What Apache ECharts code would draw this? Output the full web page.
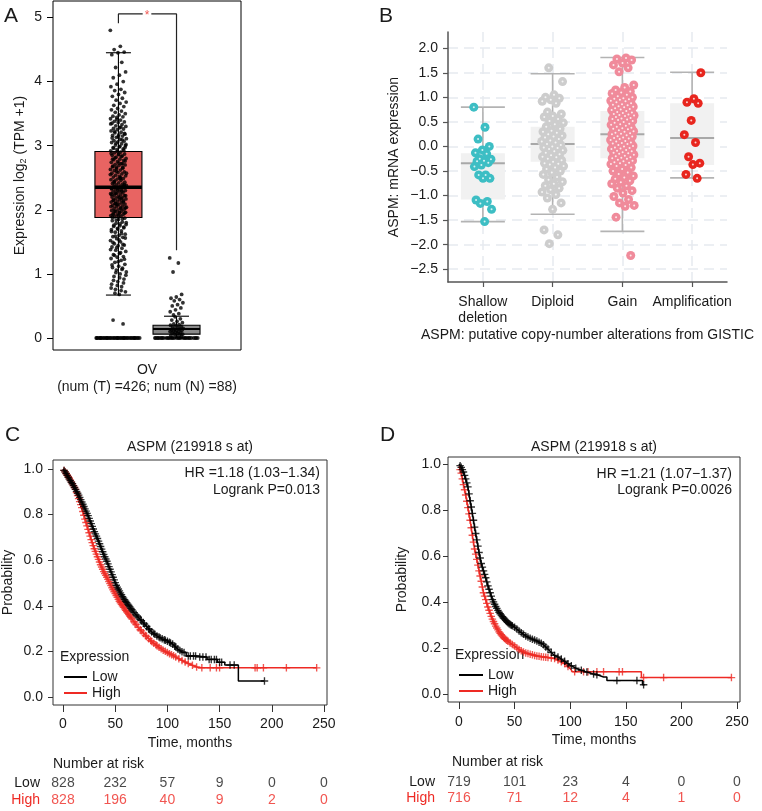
<!DOCTYPE html>
<html><head><meta charset="utf-8">
<script src="https://cdn.jsdelivr.net/npm/echarts@6/dist/echarts.min.js"></script>
<style>html,body{margin:0;padding:0;background:#fff}#c{width:762px;height:811px}</style>
</head><body><div id="c"></div>
<script>
// ---------------- Panel A data ----------------
const aCategories = ['OV\n(num (T) =426; num (N) =88)'];
const aTumorBox = [0.67, 1.88, 2.35, 2.91, 4.45];   // low whisker, q1, median, q3, high whisker
const aNormalBox = [0, 0.06, 0.14, 0.20, 0.34];
const aTumorZeros = [0,0,0,0,0,0,0,0,0,0,0,0,0,0,0,0,0,0,0,0,0,0,0,0,0,0,0,0,0,0,0,0,0,0,0,0,0,0,0,0];
const aTumorValues = [
4.80,4.55,4.50,4.46,4.45,4.42,4.30,4.22,4.15,4.10,4.06,4.00,3.96,3.92,3.88,3.86,3.83,3.80,3.77,3.74,3.71,3.68,3.66,3.63,3.61,3.58,3.56,3.54,3.52,3.50,
3.48,3.46,3.45,3.44,3.42,3.40,3.38,3.37,3.36,3.35,3.33,3.31,3.30,3.28,3.27,3.26,3.25,3.23,3.21,3.20,3.18,3.17,3.16,3.15,3.13,3.11,3.10,3.08,3.07,3.06,3.05,3.03,3.01,3.00,
2.98,2.97,2.95,2.94,2.92,2.90,2.89,2.87,2.86,2.85,2.84,2.82,2.80,2.79,2.78,2.77,2.75,2.74,2.72,2.71,2.70,2.69,2.67,2.66,2.64,2.63,2.62,2.61,2.59,2.58,2.57,2.56,2.54,2.53,2.52,2.51,2.49,2.48,2.47,2.46,2.45,2.43,2.42,2.41,2.40,2.39,2.38,2.37,2.36,2.35,2.34,2.33,2.32,2.31,2.30,2.29,2.28,2.27,2.26,2.25,2.24,2.23,2.22,2.21,2.20,2.19,2.18,2.17,2.16,2.15,2.14,2.13,2.12,2.11,2.10,2.09,2.08,2.07,2.06,2.05,2.04,2.03,2.02,2.01,2.00,1.99,1.98,1.97,1.96,1.95,1.94,1.93,1.92,1.91,1.90,1.89,
1.87,1.85,1.83,1.81,1.79,1.77,1.75,1.74,1.73,1.71,1.69,1.67,1.65,1.62,1.60,1.58,1.57,1.55,1.52,1.50,1.47,1.45,1.44,1.42,1.40,1.37,1.35,1.32,1.30,1.27,1.26,1.24,1.21,1.18,1.15,1.12,1.10,1.09,1.06,1.03,1.00,0.96,0.92,0.88,0.84,0.80,0.76,0.72,0.68,0.28,0.22,
3.41,3.34,3.29,3.22,3.19,3.14,3.12,3.09,3.04,3.02,2.99,2.96,2.93,2.91,2.88,2.83,2.81,2.76,2.73,2.68,2.65,2.60,2.55,2.50,2.44,2.39,2.35,2.33,2.29,2.26,2.22,2.19,2.15,2.12,2.08,2.05,2.02,1.98,1.95,1.91,1.88,1.86,1.84,1.80,1.78,1.76,1.72,1.70,1.66,1.63,1.59,1.56,1.53,1.49,1.46,1.41,1.38,1.33,1.29,1.23,1.19,1.14,1.07,1.02,0.98,0.94,0.90,0.86,0.82,0.78,0.74,0.70,
2.97,2.87,2.79,2.72,2.66,2.57,2.49,2.42,2.37,2.31,2.24,2.17,2.10,2.03,1.96,1.93];
const aNormalZeros = [0,0,0,0,0,0,0,0,0,0,0,0,0,0,0,0,0,0,0,0,0,0,0,0,0,0,0,0,0,0];
const aNormalValues = [0.02,0.03,0.04,0.05,0.06,0.06,0.07,0.08,0.08,0.09,0.10,0.10,0.11,0.12,0.12,0.13,0.14,0.14,0.15,0.16,0.17,0.18,0.19,0.20,0.21,0.22,0.24,0.26,0.28,0.30,0.33,
1.25,1.17,1.03,0.68,0.64,0.62,0.60,0.58,0.55,0.52,0.50,0.47,0.44,0.41,0.38,0.36];
const aYTicks = [0,1,2,3,4,5];
const aSig = {top: 5.055, leftEnd: 4.91, rightEnd: 1.37, mark: '*'};

// ---------------- Panel B data ----------------
const bCategories = ['Shallow\ndeletion', 'Diploid', 'Gain', 'Amplification'];
const bBoxes = [
  [-1.53, -1.08, -0.34, -0.14, 0.80],
  [-1.38, -0.31, 0.05, 0.40, 1.48],
  [-1.73, -0.24, 0.25, 0.72, 1.81],
  [-0.64, -0.38, 0.17, 0.88, 1.51]
];
const bShallow = [0.80,0.39,0.15,0.00,-0.07,-0.13,-0.15,-0.25,-0.26,-0.29,-0.30,-0.33,-0.38,-0.41,-0.58,-0.58,-0.65,-0.65,-1.09,-1.12,-1.16,-1.28,-1.53];
const bDiploid = [1.60,1.32,1.05,1.00,0.98,0.95,0.92,0.88,0.70,0.66,0.62,0.60,0.56,0.52,0.48,0.45,0.40,0.36,0.32,0.30,0.28,0.25,0.22,0.20,0.18,0.15,0.12,0.10,0.08,0.05,0.03,0.00,-0.02,-0.03,-0.05,-0.08,-0.10,-0.13,-0.16,-0.18,-0.21,-0.22,-0.25,-0.28,-0.31,-0.34,-0.35,-0.37,-0.40,-0.43,-0.46,-0.50,-0.53,-0.57,-0.62,-0.68,-0.72,-0.76,-0.80,-0.85,-0.88,-0.93,-0.98,-1.05,-1.15,-1.28,-1.70,-1.80,-1.98];
const bGain = [1.80,1.78,1.76,1.70,1.66,1.60,1.52,1.25,1.20,1.15,1.12,1.10,1.08,1.05,1.02,1.00,0.98,0.97,0.96,0.95,0.93,0.92,0.90,0.88,0.86,0.85,0.84,0.82,0.81,0.80,0.78,0.76,0.75,0.74,0.72,0.70,0.69,0.68,0.66,0.65,0.64,0.63,0.62,0.60,0.58,0.57,0.56,0.55,0.54,0.52,0.50,0.48,0.46,0.45,0.44,0.42,0.40,0.38,0.37,0.36,0.35,0.33,0.31,0.30,0.28,0.27,0.26,0.25,0.23,0.21,0.20,0.18,0.17,0.16,0.15,0.13,0.11,0.10,0.08,0.07,0.06,0.05,0.03,0.01,0.00,-0.02,-0.03,-0.04,-0.05,-0.07,-0.09,-0.10,-0.12,-0.13,-0.14,-0.15,-0.17,-0.19,-0.20,-0.22,-0.23,-0.24,-0.25,-0.27,-0.29,-0.30,-0.32,-0.33,-0.34,-0.36,-0.38,-0.40,-0.43,-0.46,-0.50,-0.53,-0.56,-0.60,-0.63,-0.66,-0.70,-0.73,-0.76,-0.80,-0.85,-0.90,-0.95,-1.02,-1.08,-1.15,-1.20,-1.22,-1.44,-2.22];
const bAmp = [1.50,0.97,0.90,0.88,0.53,0.24,0.08,-0.21,-0.34,-0.37,-0.57,-0.65];
const bYTicks = [-2.5,-2,-1.5,-1,-0.5,0,0.5,1,1.5,2];

// ---------------- Panel C data ----------------
const timeTicks = [0,50,100,150,200,250];
const probTicks = [0,0.2,0.4,0.6,0.8,1.0];
const cLowCurve = [[0,1],[3,0.98],[6,0.955],[9,0.935],[12,0.91],[15,0.885],[18,0.855],[21,0.825],[24,0.795],[27,0.76],[30,0.725],[33,0.695],[36,0.66],[39,0.625],[42,0.595],[45,0.56],[48,0.525],[51,0.49],[54,0.465],[57,0.44],[60,0.42],[64,0.395],[68,0.37],[72,0.35],[76,0.33],[80,0.31],[85,0.285],[90,0.268],[95,0.255],[100,0.245],[105,0.232],[110,0.21],[115,0.195],[118,0.195],[118,0.18],[128,0.18],[128,0.175],[138,0.175],[138,0.165],[148,0.165],[148,0.152],[155,0.152],[155,0.14],[168,0.14],[168,0.07],[193,0.07]];
const cHighCurve = [[0,1],[3,0.98],[6,0.96],[9,0.935],[12,0.91],[15,0.87],[18,0.83],[21,0.78],[24,0.735],[27,0.69],[30,0.65],[33,0.615],[36,0.58],[39,0.55],[42,0.525],[45,0.497],[48,0.47],[51,0.445],[54,0.42],[57,0.40],[60,0.38],[64,0.355],[68,0.33],[72,0.305],[76,0.285],[80,0.265],[85,0.243],[90,0.225],[95,0.208],[100,0.195],[105,0.183],[110,0.17],[115,0.158],[120,0.147],[125,0.137],[130,0.128],[243,0.128]];
const cLowCensor = [1,2,3,4,5,6,7,8,9,10,11,12,13,14,15,16,17,18,19,20,21,22,23,24,25,26,27,28,29,30,31,32,33,34,35,36,37,38,39,40,41,42,43,44,45,46,47,48,49,50,51,52,53,54,55,56,57,58,59,60,61,62,63,64,65,66,67,68,70,71,72,74,75,77,78,80,82,83,85,87,88,90,92,93,95,97,98,100,102,103,105,107,108,110,112,114,116,120,122,125,127,131,134,137,140,142,145,147,150,152,160,164,193];
const cHighCensor = [1,2,3,4,5,6,7,8,9,10,11,12,13,14,15,16,17,18,19,20,21,22,23,24,25,26,27,28,29,30,31,32,33,34,35,36,37,38,39,40,41,42,43,44,45,46,47,48,49,50,51,52,53,54,55,56,57,58,59,60,61,62,63,64,65,66,68,69,70,72,74,75,77,79,80,82,84,85,87,89,90,92,94,96,98,100,102,104,106,108,111,114,117,120,124,128,133,141,147,150,184,186,192,214,243];
const cRiskLow = [828,232,57,9,0,0];
const cRiskHigh = [828,196,40,9,2,0];
const cStats = ['HR =1.18 (1.03\u22121.34)', 'Logrank P=0.013'];

// ---------------- Panel D data ----------------
const dLowCurve = [[0,1],[2,0.985],[4,0.965],[6,0.935],[8,0.9],[10,0.84],[12,0.785],[14,0.725],[16,0.67],[18,0.615],[20,0.567],[22,0.535],[24,0.505],[26,0.47],[28,0.44],[30,0.41],[33,0.38],[36,0.355],[40,0.33],[45,0.305],[50,0.29],[55,0.27],[60,0.252],[65,0.24],[70,0.23],[75,0.218],[80,0.195],[85,0.17],[90,0.158],[95,0.142],[100,0.125],[105,0.112],[110,0.103],[115,0.095],[120,0.088],[125,0.082],[130,0.074],[133,0.074],[133,0.058],[165,0.058],[165,0.04],[167,0.04]];
const dHighCurve = [[0,0.99],[2,0.96],[4,0.91],[6,0.865],[8,0.81],[10,0.755],[12,0.69],[14,0.63],[16,0.585],[18,0.535],[20,0.49],[22,0.44],[24,0.41],[26,0.378],[28,0.35],[30,0.325],[33,0.295],[36,0.27],[40,0.245],[45,0.225],[50,0.208],[55,0.19],[60,0.178],[70,0.165],[80,0.158],[86,0.154],[90,0.145],[95,0.132],[100,0.11],[102,0.097],[164,0.097],[164,0.071],[245,0.071]];
const dLowCensor = [1,2,3,4,5,6,7,8,9,10,11,12,13,14,15,16,17,18,19,20,21,22,23,24,25,26,27,28,29,30,31,32,33,34,35,36,37,38,39,40,41,42,43,44,45,46,47,48,50,52,54,56,58,60,62,64,66,68,70,72,74,76,78,80,83,86,89,92,95,98,101,105,110,115,121,124,142,160,166];
const dHighCensor = [1,2,3,4,5,6,7,8,9,10,11,12,13,14,15,16,17,18,19,20,21,22,23,24,25,26,27,28,29,30,31,32,33,34,35,36,37,38,39,40,41,42,43,44,46,48,50,52,54,56,58,60,62,64,66,68,70,72,74,76,78,80,83,86,89,92,95,98,104,112,116,124,130,144,147,166,184,245];
const dRiskLow = [719,101,23,4,0,0];
const dRiskHigh = [716,71,12,4,1,0];
const dStats = ['HR =1.21 (1.07\u22121.37)', 'Logrank P=0.0026'];

// ---------------- helpers ----------------
const FONT = '"Liberation Sans", Arial, Helvetica, sans-serif';
const RED = '#EE2A24';
const TXT = '#1a1a1a';
function jitter(i, w) { const f = (i * 0.618033988749895) % 1; return (f - 0.5) * 2 * w; }
function jitterPts(values, center, w, off) { return values.map((v, i) => [center + jitter(i + (off || 0), w), v]); }
// position of a censor mark on the drawn curve
function onCurve(curve, t) {
  for (let i = curve.length - 1; i >= 0; i--) {
    if (curve[i][0] <= t) {
      const a = curve[i], b = curve[i + 1];
      if (!b || b[0] === a[0]) return a[1];
      return a[1] + (b[1] - a[1]) * (t - a[0]) / (b[0] - a[0]);
    }
  }
  return curve[0][1];
}
const PLUS = 'path://M-0.18,-1L0.18,-1L0.18,-0.18L1,-0.18L1,0.18L0.18,0.18L0.18,1L-0.18,1L-0.18,0.18L-1,0.18L-1,-0.18L-0.18,-0.18Z';

const A_T = 0.348, A_N = 0.657; // x positions of tumor / normal groups on panel A's hidden axis

function aBoxBack(params, api) {
  const x = api.value(0);
  const q1 = api.coord([x, api.value(2)]), q3 = api.coord([x, api.value(4)]);
  const hw = 23.5;
  return { type: 'rect', shape: { x: q1[0] - hw, y: q3[1], width: hw * 2, height: q1[1] - q3[1] },
    style: { fill: params.dataIndex === 0 ? '#E86462' : '#8a8a8a', stroke: 'none' } };
}
function aBoxFront(params, api) {
  const x = api.value(0);
  const lo = api.coord([x, api.value(1)]), q1 = api.coord([x, api.value(2)]), md = api.coord([x, api.value(3)]),
        q3 = api.coord([x, api.value(4)]), hi = api.coord([x, api.value(5)]);
  const hw = 23.5, cw = 12.5, st = { stroke: '#000', lineWidth: 1.1 };
  return { type: 'group', children: [
    { type: 'rect', shape: { x: q1[0] - hw, y: q3[1], width: hw * 2, height: q1[1] - q3[1] }, style: { fill: 'none', stroke: '#000', lineWidth: 1.1 } },
    { type: 'line', shape: { x1: md[0] - hw, y1: md[1], x2: md[0] + hw, y2: md[1] }, style: { stroke: '#000', lineWidth: params.dataIndex === 0 ? 3.5 : 2 } },
    { type: 'line', shape: { x1: q3[0], y1: q3[1], x2: hi[0], y2: hi[1] }, style: st },
    { type: 'line', shape: { x1: q1[0], y1: q1[1], x2: lo[0], y2: lo[1] }, style: st },
    { type: 'line', shape: { x1: hi[0] - cw, y1: hi[1], x2: hi[0] + cw, y2: hi[1] }, style: st },
    { type: 'line', shape: { x1: lo[0] - cw, y1: lo[1], x2: lo[0] + cw, y2: lo[1] }, style: st }
  ]};
}
function bBox(params, api) {
  const x = api.value(0);
  const lo = api.coord([x, api.value(1)]), q1 = api.coord([x, api.value(2)]), md = api.coord([x, api.value(3)]),
        q3 = api.coord([x, api.value(4)]), hi = api.coord([x, api.value(5)]);
  const hw = 22, st = { stroke: '#b3b3b3', lineWidth: 1.6 };
  return { type: 'group', children: [
    { type: 'rect', shape: { x: q1[0] - hw, y: q3[1], width: hw * 2, height: q1[1] - q3[1] }, style: { fill: '#f1f1f1' } },
    { type: 'line', shape: { x1: q3[0], y1: q3[1], x2: hi[0], y2: hi[1] }, style: st },
    { type: 'line', shape: { x1: q1[0], y1: q1[1], x2: lo[0], y2: lo[1] }, style: st },
    { type: 'line', shape: { x1: hi[0] - hw, y1: hi[1], x2: hi[0] + hw, y2: hi[1] }, style: st },
    { type: 'line', shape: { x1: lo[0] - hw, y1: lo[1], x2: lo[0] + hw, y2: lo[1] }, style: st },
    { type: 'line', shape: { x1: md[0] - hw, y1: md[1], x2: md[0] + hw, y2: md[1] }, style: { stroke: '#a8a8a8', lineWidth: 2 } }
  ]};
}

const chart = echarts.init(document.getElementById('c'), null, { renderer: 'canvas' });

const axisTxt = { fontSize: 14, color: TXT, fontFamily: FONT };
function fmt1(v) { return (v < 0 ? '\u2212' : '') + Math.abs(v).toFixed(1); }

const bColors = ['#3DBEC4', '#CDCDCD', '#F08B9B', '#E8261E'];
const bGroups = [bShallow, bDiploid, bGain, bAmp];
const bWidths = [0.13, 0.16, 0.17, 0.13];

const series = [];
// ---- A ----
series.push({ type: 'custom', xAxisIndex: 1, yAxisIndex: 0, renderItem: aBoxBack, z: 1, silent: true,
  data: [[A_T].concat(aTumorBox), [A_N].concat(aNormalBox)] });
series.push({ type: 'scatter', xAxisIndex: 1, yAxisIndex: 0, symbolSize: 3.8, z: 2, silent: true,
  itemStyle: { color: '#000' },
  data: jitterPts(aTumorValues, A_T, 0.043).concat(jitterPts(aTumorZeros, A_T, 0.118), jitterPts(aNormalValues, A_N, 0.037, 3), jitterPts(aNormalZeros, A_N, 0.118, 5)) });
series.push({ type: 'custom', xAxisIndex: 1, yAxisIndex: 0, renderItem: aBoxFront, z: 3, silent: true,
  data: [[A_T].concat(aTumorBox), [A_N].concat(aNormalBox)] });
series.push({ type: 'line', xAxisIndex: 1, yAxisIndex: 0, symbol: 'none', silent: true, lineStyle: { color: '#222', width: 1.2 },
  data: [[A_T, aSig.leftEnd], [A_T, aSig.top], [0.477, aSig.top]] });
series.push({ type: 'line', xAxisIndex: 1, yAxisIndex: 0, symbol: 'none', silent: true, lineStyle: { color: '#222', width: 1.2 },
  data: [[0.523, aSig.top], [A_N, aSig.top], [A_N, aSig.rightEnd]] });
series.push({ type: 'scatter', xAxisIndex: 1, yAxisIndex: 0, symbolSize: 1, itemStyle: { color: 'transparent' }, silent: true,
  label: { show: true, position: 'inside', formatter: aSig.mark, color: RED, fontSize: 12, fontFamily: FONT, offset: [0, 2] },
  data: [[0.5, aSig.top]] });

// ---- B ----
series.push({ type: 'custom', xAxisIndex: 2, yAxisIndex: 1, renderItem: bBox, z: 1, silent: true,
  data: bBoxes.map((b, i) => [i].concat(b)) });
bGroups.forEach((g, gi) => {
  const d = jitterPts(g, gi, bWidths[gi], gi * 7);
  series.push({ type: 'scatter', xAxisIndex: 2, yAxisIndex: 1, symbolSize: 9, z: 2, silent: true,
    itemStyle: { color: bColors[gi], opacity: 1 }, data: d });
  series.push({ type: 'scatter', xAxisIndex: 2, yAxisIndex: 1, symbolSize: 2, z: 3, silent: true,
    itemStyle: { color: '#ffffff' }, data: d });
});

// ---- C & D KM ----
function km(xi, yi, lowCurve, highCurve, lowCens, highCens) {
  series.push({ name: 'Low', type: 'line', xAxisIndex: xi, yAxisIndex: yi, symbol: 'none', silent: true,
    itemStyle: { color: '#000' }, lineStyle: { color: '#000', width: 1.5 }, data: lowCurve, z: 3 });
  series.push({ name: 'High', type: 'line', xAxisIndex: xi, yAxisIndex: yi, symbol: 'none', silent: true,
    itemStyle: { color: RED }, lineStyle: { color: RED, width: 1.5 }, data: highCurve, z: 2 });
  series.push({ name: 'lowCens', type: 'scatter', xAxisIndex: xi, yAxisIndex: yi, symbol: PLUS, symbolSize: 7.5, silent: true, z: 3,
    itemStyle: { color: '#000' }, data: lowCens.map(t => [t, onCurve(lowCurve, t)]) });
  series.push({ name: 'highCens', type: 'scatter', xAxisIndex: xi, yAxisIndex: yi, symbol: PLUS, symbolSize: 7.5, silent: true, z: 2,
    itemStyle: { color: RED }, data: highCens.map(t => [t, onCurve(highCurve, t)]) });
}
km(3, 2, cLowCurve, cHighCurve, cLowCensor, cHighCensor);
km(5, 4, dLowCurve, dHighCurve, dLowCensor, dHighCensor);

function risk(xi, yi, low, high) {
  series.push({ type: 'scatter', xAxisIndex: xi, yAxisIndex: yi, symbolSize: 1, itemStyle: { color: 'transparent' }, silent: true,
    label: { show: true, position: 'inside', formatter: p => String(p.value[2]), fontSize: 14, color: TXT, fontFamily: FONT },
    data: timeTicks.map((t, i) => [t, 'Low', low[i]]) });
  series.push({ type: 'scatter', xAxisIndex: xi, yAxisIndex: yi, symbolSize: 1, itemStyle: { color: 'transparent' }, silent: true,
    label: { show: true, position: 'inside', formatter: p => String(p.value[2]), fontSize: 14, color: RED, fontFamily: FONT },
    data: timeTicks.map((t, i) => [t, 'High', high[i]]) });
}
risk(4, 3, cRiskLow, cRiskHigh);
risk(6, 5, dRiskLow, dRiskHigh);

function kmX(grid, min, max, margin) {
  return { gridIndex: grid, type: 'value', min: min, max: max,
    axisLine: { show: false, onZero: false }, splitLine: { show: false },
    axisTick: { show: true, customValues: timeTicks, length: 7, lineStyle: { color: '#333', width: 1 } },
    axisLabel: Object.assign({ customValues: timeTicks, margin: margin }, axisTxt),
    name: 'Time, months', nameLocation: 'middle', nameGap: 31, nameTextStyle: axisTxt };
}
function kmY(grid, min, max, margin, gap) {
  return { gridIndex: grid, type: 'value', min: min, max: max,
    axisLine: { show: false, onZero: false }, splitLine: { show: false },
    axisTick: { show: true, customValues: probTicks, length: 5, lineStyle: { color: '#333', width: 1 } },
    axisLabel: Object.assign({ customValues: probTicks, margin: margin, formatter: v => v.toFixed(1) }, axisTxt),
    name: 'Probability', nameLocation: 'middle', nameGap: gap, nameTextStyle: axisTxt };
}
function riskX(grid, min, max) { return { gridIndex: grid, type: 'value', min: min, max: max, show: false, axisLine: { onZero: false } }; }
function riskY(grid) {
  return { gridIndex: grid, type: 'category', data: ['High', 'Low'], axisLine: { show: false, onZero: false }, axisTick: { show: false },
    axisLabel: { interval: 0, margin: 13, fontSize: 14, fontFamily: FONT, color: v => v === 'High' ? RED : TXT } };
}

function txt(x, y, text, opts) {
  return { type: 'text', x: x, y: y, silent: true,
    style: Object.assign({ text: text, fontSize: 14, fontFamily: FONT, fill: TXT, align: 'left', verticalAlign: 'middle' }, (opts || {})) };
}

const option = {
  animation: false,
  backgroundColor: '#fff',
  textStyle: { fontFamily: FONT },
  grid: [
    { left: 53, top: 1, width: 188, height: 349, show: true, borderColor: '#000', borderWidth: 1, backgroundColor: 'transparent' },
    { left: 448, top: 32, width: 279, height: 250 },
    { left: 53, top: 460, width: 274, height: 245, show: true, borderColor: '#333', borderWidth: 1, backgroundColor: 'transparent' },
    { left: 53, top: 775, width: 274, height: 34 },
    { left: 448, top: 457, width: 292, height: 245, show: true, borderColor: '#333', borderWidth: 1, backgroundColor: 'transparent' },
    { left: 448, top: 774, width: 292, height: 32 }
  ],
  xAxis: [
    { gridIndex: 0, type: 'category', data: aCategories, axisLine: { show: false, onZero: false },
      axisTick: { alignWithLabel: true, length: 6, lineStyle: { color: '#000' } },
      axisLabel: Object.assign({ margin: 12, lineHeight: 17 }, axisTxt) },
    { gridIndex: 0, type: 'value', min: 0, max: 1, show: false, axisLine: { onZero: false } },
    { gridIndex: 1, type: 'value', min: -0.5, max: 3.5,
      axisLine: { show: true, onZero: false, lineStyle: { color: '#555', width: 1.5 } },
      axisTick: { show: true, customValues: [0, 1, 2, 3], length: 5, lineStyle: { color: '#555', width: 1.2 } },
      axisLabel: Object.assign({ customValues: [0, 1, 2, 3], margin: 12, lineHeight: 16, formatter: v => bCategories[Math.round(v)] }, axisTxt),
      splitLine: { show: true, lineStyle: { color: '#e6eaef', width: 1.5, type: [10, 6] } },
      name: 'ASPM: putative copy-number alterations from GISTIC', nameLocation: 'middle', nameGap: 46, nameTextStyle: axisTxt },
    kmX(2, -9.58, 252.9, 12),
    riskX(3, -9.58, 252.9),
    kmX(4, -9.9, 252.7, 13),
    riskX(5, -9.9, 252.7)
  ],
  yAxis: [
    { gridIndex: 0, type: 'value', min: -0.187, max: 5.257, axisLine: { show: false, onZero: false }, splitLine: { show: false },
      axisTick: { show: true, customValues: aYTicks, length: 6, lineStyle: { color: '#000' } },
      axisLabel: Object.assign({ customValues: aYTicks, margin: 11 }, axisTxt),
      name: 'Expression log{s|2} (TPM +1)', nameLocation: 'middle', nameGap: 25,
      nameTextStyle: Object.assign({ rich: { s: { fontSize: 9, fontFamily: FONT, color: TXT, padding: [6, 0, 0, 0] } } }, axisTxt) },
    { gridIndex: 1, type: 'value', min: -2.76, max: 2.33,
      axisLine: { show: true, onZero: false, lineStyle: { color: '#555', width: 1.5 } },
      axisTick: { show: true, customValues: bYTicks, length: 5, lineStyle: { color: '#555', width: 1.2 } },
      axisLabel: Object.assign({ customValues: bYTicks, margin: 10, formatter: fmt1 }, axisTxt),
      splitLine: { show: true, lineStyle: { color: '#e6eaef', width: 1.5, type: [10, 6] } },
      name: 'ASPM: mRNA expression', nameLocation: 'middle', nameGap: 47, nameTextStyle: axisTxt },
    kmY(2, -0.035, 1.039, 10, 38),
    riskY(3),
    kmY(4, -0.035, 1.030, 7, 39),
    riskY(5)
  ],
  legend: [
    { data: ['Low', 'High'], left: 64, top: 669, orient: 'vertical', icon: 'rect', itemWidth: 23, itemHeight: 2, itemGap: 0,
      selectedMode: false, textStyle: { fontSize: 14, color: TXT, fontFamily: FONT, lineHeight: 16 }, padding: 0 },
    { data: ['Low', 'High'], left: 459, top: 667, orient: 'vertical', icon: 'rect', itemWidth: 24, itemHeight: 2, itemGap: 0,
      selectedMode: false, textStyle: { fontSize: 14, color: TXT, fontFamily: FONT, lineHeight: 16 }, padding: 0 }
  ],
  graphic: [
    txt(4, 16, 'A', { fontSize: 21 }),
    txt(379, 16, 'B', { fontSize: 21 }),
    txt(5, 435, 'C', { fontSize: 21 }),
    txt(380, 435, 'D', { fontSize: 21 }),
    txt(190, 447, 'ASPM (219918 s at)', { align: 'center' }),
    txt(594, 447, 'ASPM (219918 s at)', { align: 'center' }),
    txt(320, 473, cStats[0], { align: 'right' }),
    txt(320, 490, cStats[1], { align: 'right' }),
    txt(732, 474, dStats[0], { align: 'right' }),
    txt(732, 490, dStats[1], { align: 'right' }),
    txt(60, 657, 'Expression'),
    txt(455, 655, 'Expression'),
    txt(53, 764, 'Number at risk'),
    txt(452, 762, 'Number at risk')
  ],
  series: series
};
chart.setOption(option);
</script>
</body></html>
